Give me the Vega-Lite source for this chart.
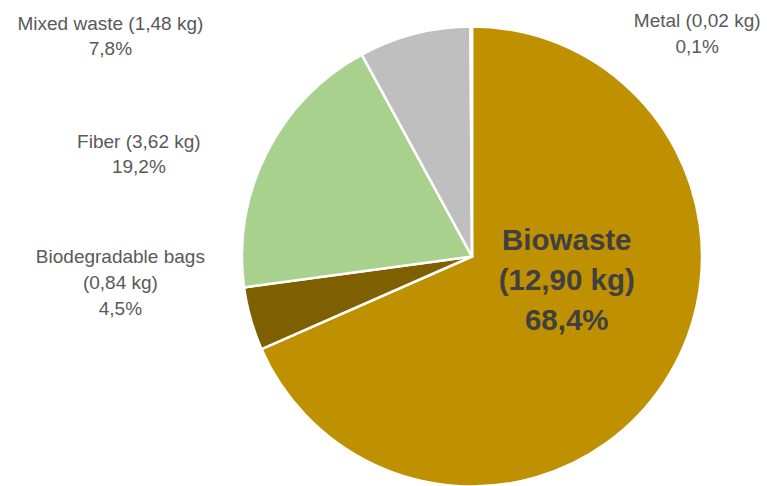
{
  "$schema": "https://vega.github.io/schema/vega-lite/v6.json",
  "width": 460,
  "height": 459,
  "autosize": {"type": "none"},
  "padding": {"left": 242, "top": 27, "right": 65, "bottom": 0},
  "background": "white",
  "config": {"view": {"stroke": null}},
  "data": {
    "values": [
      {"category": "Biowaste", "kg": 12.90, "order": 1, "label": ["Biowaste", "(12,90 kg)", "68,4%"]},
      {"category": "Biodegradable bags", "kg": 0.84, "order": 2, "label": ["Biodegradable bags", "(0,84 kg)", "4,5%"]},
      {"category": "Fiber", "kg": 3.62, "order": 3, "label": ["Fiber (3,62 kg)", "19,2%"]},
      {"category": "Mixed waste", "kg": 1.48, "order": 4, "label": ["Mixed waste (1,48 kg)", "7,8%"]},
      {"category": "Metal", "kg": 0.02, "order": 5, "label": ["Metal (0,02 kg)", "0,1%"]}
    ]
  },
  "encoding": {
    "theta": {"field": "kg", "type": "quantitative", "stack": true},
    "order": {"field": "order", "type": "quantitative"}
  },
  "layer": [
    {
      "mark": {"type": "arc", "radius": 230, "stroke": "white", "strokeWidth": 2.5},
      "encoding": {
        "color": {
          "field": "category",
          "type": "nominal",
          "scale": {
            "domain": ["Biowaste", "Biodegradable bags", "Fiber", "Mixed waste", "Metal"],
            "range": ["#BF9000", "#7F6000", "#A9D18E", "#BFBFBF", "#D9D9D9"]
          },
          "legend": null
        }
      }
    },
    {
      "mark": {"type": "text", "radius": 100, "dx": 11, "dy": -70, "font": "Liberation Sans", "fontSize": 29.5, "fontWeight": "bold", "lineHeight": 40, "color": "#404040", "align": "center", "baseline": "middle"},
      "encoding": {"text": {"condition": {"test": "datum.category === 'Biowaste'", "field": "label"}, "value": ""}}
    },
    {
      "mark": {"type": "text", "radius": 250, "dx": -111, "dy": -67, "font": "Liberation Sans", "fontSize": 19, "lineHeight": 26, "color": "#595959", "align": "center", "baseline": "middle"},
      "encoding": {"text": {"condition": {"test": "datum.category === 'Biodegradable bags'", "field": "label"}, "value": ""}}
    },
    {
      "mark": {"type": "text", "radius": 250, "dx": -110, "dy": -2, "font": "Liberation Sans", "fontSize": 19, "lineHeight": 25, "color": "#595959", "align": "center", "baseline": "middle"},
      "encoding": {"text": {"condition": {"test": "datum.category === 'Fiber'", "field": "label"}, "value": ""}}
    },
    {
      "mark": {"type": "text", "radius": 250, "dx": -299, "dy": 10, "font": "Liberation Sans", "fontSize": 19, "lineHeight": 25, "color": "#595959", "align": "center", "baseline": "middle"},
      "encoding": {"text": {"condition": {"test": "datum.category === 'Mixed waste'", "field": "label"}, "value": ""}}
    },
    {
      "mark": {"type": "text", "radius": 250, "dx": 226, "dy": 14, "font": "Liberation Sans", "fontSize": 19, "lineHeight": 26, "color": "#595959", "align": "center", "baseline": "middle"},
      "encoding": {"text": {"condition": {"test": "datum.category === 'Metal'", "field": "label"}, "value": ""}}
    }
  ]
}
